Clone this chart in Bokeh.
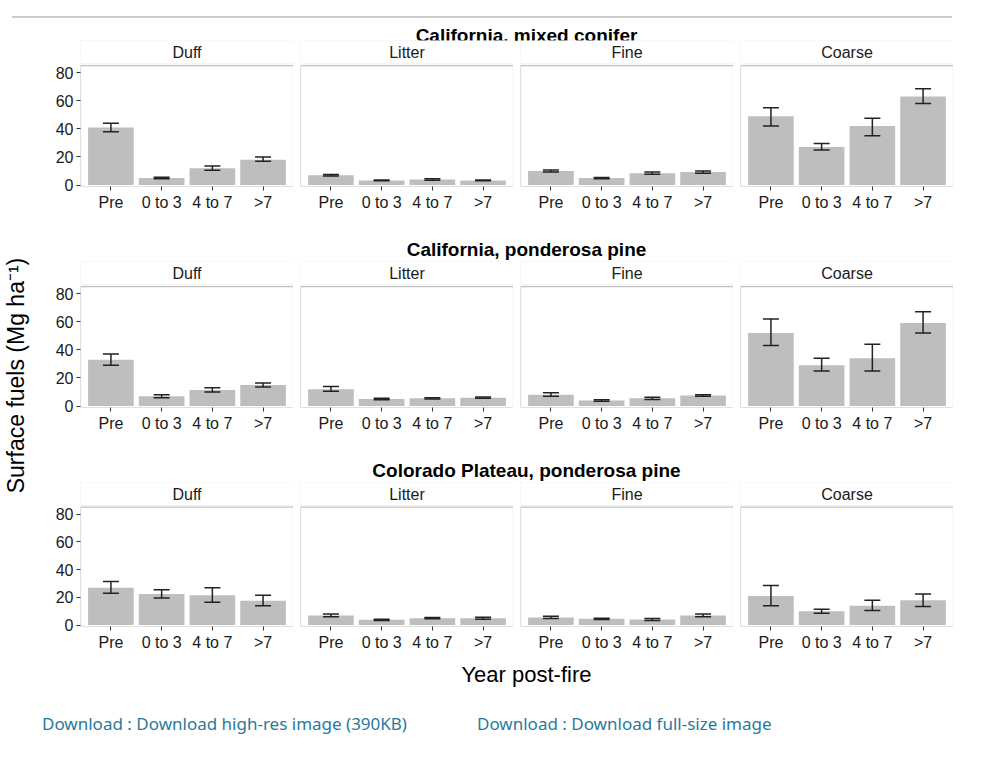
from bokeh.embed import file_html
from bokeh.resources import INLINE
from bokeh.layouts import column, row
from bokeh.models import (ColumnDataSource, Whisker, BoxAnnotation, Label, Range1d,
                          FixedTicker, Div)
from bokeh.plotting import figure

# data
periods = ["Pre", "0 to 3", "4 to 7", ">7"]
fuels = ["Duff", "Litter", "Fine", "Coarse"]
sites = ["California, mixed conifer", "California, ponderosa pine",
         "Colorado Plateau, ponderosa pine"]

# mean, lower, upper  per site -> per fuel
cmc_mean = [[41, 5, 12, 18], [7, 3.3, 4, 3.3], [10, 5, 8.5, 9.3], [49, 27, 42, 63]]
cmc_low = [[38, 4.5, 10.5, 17], [6.5, 3, 3.5, 3], [9.3, 4.5, 7.7, 8.5], [42, 25, 35, 58]]
cmc_up = [[44, 5.5, 13.5, 20], [7.5, 3.6, 4.5, 3.6], [10.7, 5.4, 9.3, 10], [55, 29.5, 47.5, 68.5]]

cpp_mean = [[33, 7, 11.5, 15], [12, 5, 5.5, 6], [8, 4, 5.5, 7.5], [52, 29, 34, 59]]
cpp_low = [[29, 6, 10, 13.5], [10.5, 4.5, 5, 5.5], [7, 3.5, 4.7, 7], [43, 25, 25, 52]]
cpp_up = [[37, 8, 13, 16.5], [14, 5.5, 6, 6.5], [9.5, 4.5, 6.3, 8], [62, 34, 44, 67]]

col_mean = [[27, 22.5, 21.5, 17.5], [7, 3.8, 5, 5], [5.5, 4.5, 4, 7], [21, 10, 14, 18]]
col_low = [[23, 19.5, 16.5, 14], [6, 3.3, 4.5, 4.3], [4.7, 4, 3.3, 6], [14, 8.5, 10.5, 13.5]]
col_up = [[31.5, 25.5, 27, 21.5], [8, 4.3, 5.5, 5.7], [6.3, 5, 4.7, 8], [28.5, 11.5, 18, 22.5]]

means = [cmc_mean, cpp_mean, col_mean]
lows = [cmc_low, cpp_low, col_low]
ups = [cmc_up, cpp_up, col_up]

FONT = "Liberation Sans"
FRAME_W = 213
ylabel = "Surface fuels (Mg ha\u207b\u00b9)"


def panel(fuel, m, lo, hi, first, bottom_border):
    xs = list(range(1, len(periods) + 1))
    src = ColumnDataSource(dict(x=xs, m=m, lo=lo, hi=hi))
    w = FRAME_W + (50 if first else 7)
    p = figure(width=w, height=146 + bottom_border, output_backend="svg",
               toolbar_location=None, x_range=Range1d(0.4, 4.6),
               y_range=Range1d(-1, 102.8), min_border_left=50 if first else 7,
               min_border_right=0, min_border_top=0, min_border_bottom=bottom_border)
    p.outline_line_color = None
    p.grid.visible = False
    p.vbar(x="x", top="m", width=0.9, source=src, fill_color="#bebebe", line_color=None)
    wk = Whisker(base="x", upper="hi", lower="lo", source=src, line_color="#222222",
                 line_width=1.5, level="overlay")
    for hd in (wk.upper_head, wk.lower_head):
        hd.size = 16
        hd.line_width = 1.5
        hd.line_color = "#222222"
    p.add_layout(wk)
    # panel border and strip
    p.add_layout(BoxAnnotation(top=85, fill_color=None, fill_alpha=0, line_color="#333333",
                               line_width=1.2, level="overlay"))
    p.add_layout(BoxAnnotation(bottom=86.2, fill_color="white", line_color="#cccccc",
                               line_width=1, level="overlay"))
    p.add_layout(Label(x=2.5, y=94.5, text=fuel, text_align="center", text_baseline="middle",
                       text_font=FONT, text_font_size="16px", text_color="#1a1a1a",
                       level="overlay"))
    p.xaxis.ticker = FixedTicker(ticks=xs)
    p.xaxis.major_label_overrides = {x: lab for x, lab in zip(xs, periods)}
    for ax in (p.xaxis, p.yaxis):
        ax.axis_line_color = None
        ax.major_tick_line_color = "#333333"
        ax.major_tick_out = 4
        ax.major_tick_in = 0
        ax.minor_tick_line_color = None
        ax.major_label_text_font = FONT
        ax.major_label_text_font_size = "16px"
        ax.major_label_text_color = "#1a1a1a"
        ax.major_label_standoff = 3
    p.yaxis.ticker = FixedTicker(ticks=[0, 20, 40, 60, 80])
    if not first:
        p.yaxis.visible = False
    return p


def title_div(text, h, pad_top):
    return Div(text=text, width=943, height=h, margin=(0, 0, 0, 0),
               styles={"font-family": FONT, "font-weight": "bold", "font-size": "19px",
                       "text-align": "center", "padding-top": f"{pad_top}px",
                       "padding-left": "50px", "box-sizing": "border-box", "color": "#000"})


items = [Div(text='<div style="border-top:2px solid #cccccc;width:940px;margin-left:-18px"></div>',
             width=943, height=6, margin=(6, 0, 0, 0))]
for i, site in enumerate(sites):
    items.append(title_div(site, 28 if i == 0 else 31, 10 if i == 0 else 6))
    bb = 44 if i < 2 else 25
    figs = [panel(f, means[i][j], lows[i][j], ups[i][j], j == 0, bb)
            for j, f in enumerate(fuels)]
    items.append(row(*figs, spacing=0, margin=(0, 0, 0, 0)))

items.append(Div(text="Year post-fire", width=943, height=35, margin=(0, 0, 0, 0),
                 styles={"font-family": FONT, "font-size": "22px", "text-align": "center",
                         "padding-left": "50px", "box-sizing": "border-box", "padding-top": "6px"}))
items.append(Div(text='<span>Download : Download high-res image (390KB)</span>'
                      '<span style="margin-left:70px">Download : Download full-size image</span>',
                 width=943, height=50, margin=(0, 0, 0, 0),
                 styles={"font-family": "Noto Sans", "font-size": "17px", "color": "#2a7a9b",
                         "padding-left": "12px", "padding-top": "24px", "box-sizing": "border-box"}))

# side figure holding the shared y-axis title
side = figure(width=30, height=660, output_backend="svg", toolbar_location=None,
              x_range=Range1d(0, 1), y_range=Range1d(0, 1), min_border=0)
side.axis.visible = False
side.grid.visible = False
side.outline_line_color = None
side.add_layout(Label(x=15, y=660 - 375, x_units="screen", y_units="screen", text=ylabel,
                      angle=90, angle_units="deg", text_align="center",
                      text_baseline="middle", text_font=FONT, text_font_size="23px",
                      text_color="#000000"))

p = row(side, column(*items, spacing=0), spacing=0)
open("out.html", "w").write(file_html(p, INLINE))
